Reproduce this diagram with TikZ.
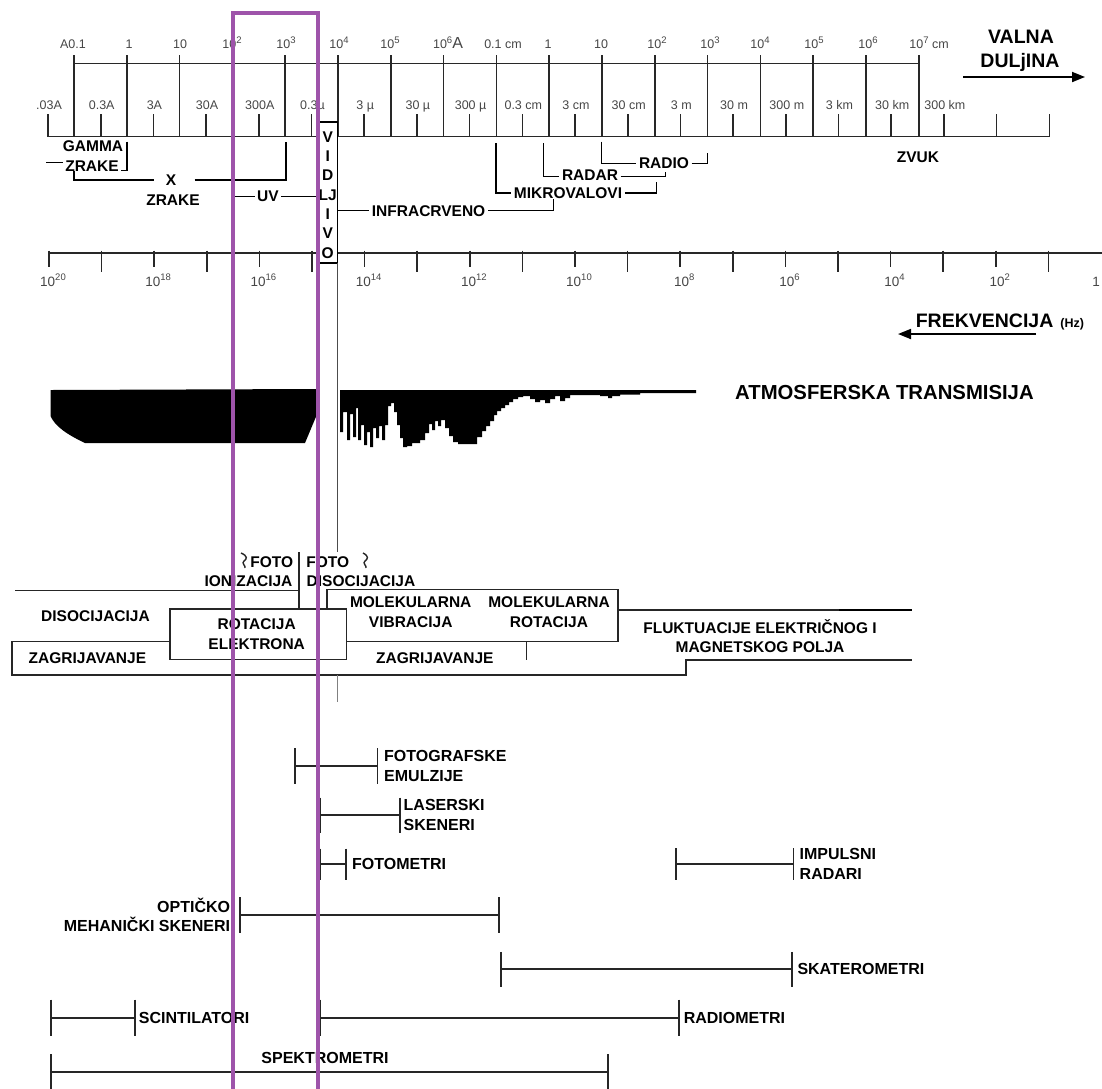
\documentclass[tikz,border=0pt]{standalone}
\usepackage{fontspec}
\setmainfont{Liberation Sans}
\usetikzlibrary{arrows.meta, positioning, calc}

\definecolor{scalegray}{RGB}{70,70,70}
\definecolor{linegray}{RGB}{40,40,40}
\definecolor{bandpurple}{RGB}{158,84,170}

\newcommand\ex[1]{\raisebox{0.42em}{\fontsize{9.5}{9.5}\selectfont #1}}

\tikzset{
  tk/.style={draw=linegray, line width=1.6pt},
  axis/.style={draw=linegray, line width=1.5pt},
  wl/.style={font=\fontsize{12.5}{14}\selectfont, text=scalegray, inner sep=0pt, anchor=base},
  fq/.style={font=\fontsize{13.5}{15}\selectfont, text=scalegray, inner sep=0pt, anchor=base},
  lbl/.style={font=\bfseries\fontsize{15.5}{19.4}\selectfont, inner sep=2.5pt, align=center},
  ins/.style={font=\bfseries\fontsize{16}{19.5}\selectfont, inner sep=1.5pt, align=left},
  big/.style={font=\bfseries\fontsize{19.5}{25}\selectfont, inner sep=0pt, align=center},
  br/.style={draw=black, line width=1.5pt},
  pr/.style={draw=black!85, line width=1.4pt},
  rng/.style={draw=black!85, line width=1.9pt},
  band/.style={draw=bandpurple, line width=4.5pt}
}

\begin{document}
\begin{tikzpicture}[x=1pt, y=-1pt, >=Stealth]
  \useasboundingbox (0,0) rectangle (1102,1088);

  % wavelength scale
  \draw[axis] (74,63.3) -- (919,63.3);
  \draw[axis] (48,136.7) -- (1049,136.7);
  \foreach \i in {0,...,16} \draw[tk] ({74+52.8*\i},55) -- ({74+52.8*\i},136.7);
  \foreach \i in {0,...,19} \draw[tk] ({48+52.7*\i},114) -- ({48+52.7*\i},136.7);
  \foreach \x/\t [count=\k] in {73/A0.1, 129/1, 180/10, 232/10\ex{2}, 286/10\ex{3},
      339/10\ex{4}, 390/10\ex{5}, 448/10\ex{6}{\fontsize{16}{16}\selectfont A},
      503/0.1 cm, 548/1, 601/10, 657/10\ex{2}, 710/10\ex{3}, 760/10\ex{4},
      814/10\ex{5}, 868/10\ex{6}, 929/10\ex{7} cm}
    \node[wl] (up\k) at (\x,48.5) {\t};
  \foreach \t [count=\k from 0] in {.03A, 0.3A, 3A, 30A, 300A, 0.3µ, 3 µ, 30 µ, 300 µ, 0.3 cm, 3 cm,
      30 cm, 3 m, 30 m, 300 m, 3 km, 30 km, 300 km}
    \node[wl] (lo\k) at ({49+52.7*\k},109) {\t};

  \node[big] (valna) at (1021,37) {VALNA};
  \node[big] (dulj) at (1020,62) {DULjINA};
  \draw[line width=1.8pt, -{Triangle[length=13pt, width=10pt]}] (963,77) -- (1085,77);

  % frequency scale
  \draw[axis] (49,253) -- (1102,253);
  \foreach \i in {0,2,...,18} \draw[tk] ({49+52.6*\i},250.7) -- ({49+52.6*\i},267.3);
  \foreach \i in {1,3,...,19} \draw[tk] ({49+52.6*\i},250.7) -- ({49+52.6*\i},271.7);
  \foreach \e [count=\k from 0] in {20,18,16,14,12,10,8,6,4,2}
    \node[fq] (fq\k) at ({53+105.2*\k},286.5) {10\ex{\e}};
  \node[fq] (fq10) at (1096,286.5) {1};

  \node[big, anchor=base west] (frek) at (915.6,327) {FREKVENCIJA\hspace{7pt}{\fontsize{12.5}{14}\selectfont (Hz)}};
  \draw[line width=1.8pt, -{Triangle[length=13pt, width=10pt]}] (1036,334) -- (898,334);

  % visible light strip
  \draw[br, fill=white] (318,122) rectangle (337.5,263);
  \foreach \t [count=\k] in {V,I,D,LJ,I,V,O}
    \node[lbl, inner sep=0pt] (vis\k) at (327.7,{117.7+19.3*\k}) {\t};
  \draw[pr, draw=black!70] (337.5,263) -- (337.5,552);

  % spectral regions
  \node[lbl] (gam) at (93,146) {GAMMA};
  \node[lbl] (gzr) at (92,166) {ZRAKE};
  \draw[br] (46,162.7) -- (62.5,162.7);
  \draw[br] (127,141.7) -- (127,170.7) -- (121,170.7);
  \node[lbl] (xr) at (171,180) {X};
  \node[lbl] (xzr) at (173,200) {ZRAKE};
  \draw[br] (74,170.7) -- (74,180) -- (153.6,180);
  \draw[br] (194.6,180) -- (286,180) -- (286,141.7);
  \node[lbl] (uv) at (268,196.7) {UV};
  \draw[br] (234,196.7) -- (uv.west);
  \draw[br] (uv.east) -- (318,196.7);
  \node[lbl] (ir) at (428.6,210.7) {INFRACRVENO};
  \draw[br] (337.5,210.7) -- (ir.west);
  \draw[br] (ir.east) -- (553.6,210.7) -- (553.6,199);
  \node[lbl] (mik) at (568,193) {MIKROVALOVI};
  \draw[br] (496,143) -- (496,193) -- (mik.west);
  \draw[br] (mik.east) -- (656.5,193) -- (656.5,181.7);
  \node[lbl] (rdr) at (590,175) {RADAR};
  \draw[br] (543.6,143.3) -- (543.6,176.7) -- (rdr.west |- 0,176.7);
  \draw[br] (rdr.east |- 0,176.7) -- (665.4,176.7) -- (665.4,171.7);
  \node[lbl] (rdo) at (664,163.3) {RADIO};
  \draw[br] (601.6,141.7) -- (601.6,163.3) -- (rdo.west);
  \draw[br] (rdo.east) -- (707.7,163.3) -- (707.7,152.7);
  \node[lbl] (zvuk) at (918,157.3) {ZVUK};

  % atmospheric transmission
  \fill (50.5,390) -- (316,389) -- (316,416.7) -- (305,443) -- (85,443)
    .. controls (66,434) and (55,426) .. (50.5,416) -- cycle;
  \fill (340,390) |- (343,432) |- (347,412) |- (350,440) |- (353,414) |- (356,437) |- (358,408)
    |- (361,440) |- (364,425) |- (367,445) |- (370,432) |- (373,447) |- (376,428) |- (379,438)
    |- (382,426) |- (385,440) |- (388,425) |- (391,406) |- (394,403) |- (397,412) |- (400,425)
    |- (403,438) |- (407,447) |- (412,446) |- (420,443) |- (425,440) |- (429,433) |- (432,424)
    |- (435,430) |- (438,421) |- (441,426) |- (445,420) |- (449,428) |- (453,436) |- (458,442)
    |- (477,444) |- (482,437) |- (486,431) |- (490,426) |- (494,421) |- (497,415) |- (501,411)
    |- (505,408) |- (509,405) |- (513,402) |- (518,399) |- (523,397) |- (530,396) |- (535,399)
    |- (540,402) |- (545,400) |- (550,403) |- (555,399) |- (560,396) |- (565,401) |- (570,398)
    |- (600,395) |- (608,396) |- (612,398) |- (620,396) |- (640,394.5) |- (696,393) -- (696,390) -- cycle;
  \node[big, anchor=west, font=\bfseries\fontsize{20.3}{25}\selectfont] (atm) at (735,393) {ATMOSFERSKA TRANSMISIJA};

  % interaction processes
  \draw[pr] (241,553) .. controls (248,556) and (247,559) .. (244,561) .. controls (241,563) and (246,566) .. (245,568);
  \draw[pr] (363,553) .. controls (369,556) and (368,559) .. (365,561) .. controls (362,563) and (367,566) .. (366,568);
  \node[lbl] (foto1) at (271.7,561.7) {FOTO};
  \node[lbl] (foto2) at (327.7,561.7) {FOTO};
  \node[lbl] (ion) at (248.5,581) {IONIZACIJA};
  \node[lbl] (fdis) at (361,581) {DISOCIJACIJA};
  \draw[pr] (299,552) -- (299,609);
  \draw[pr] (15,590.5) -- (299,590.5);
  \draw[pr] (327,609) -- (327,589.5) -- (618,589.5) -- (618,641.7) -- (346.4,641.7);
  \node[lbl] (dis) at (95.5,615.7) {DISOCIJACIJA};
  \draw[pr] (170,609) rectangle (346.4,659.3);
  \node[lbl] (rotel) at (256.7,634) {ROTACIJA\\ELEKTRONA};
  \node[lbl] (molvib) at (410.7,612) {MOLEKULARNA\\VIBRACIJA};
  \node[lbl] (molrot) at (549,612) {MOLEKULARNA\\ROTACIJA};
  \draw[pr] (170,641.5) -- (12,641.5) -- (12,675) -- (686,675) -- (686,660) -- (911.6,660);
  \draw[pr] (526.7,641.7) -- (526.7,660);
  \draw[pr] (618,610) -- (911.6,610);
  \draw[line width=2.2pt] (839,610) -- (911.6,610);
  \node[lbl] (zag1) at (87.4,658.3) {ZAGRIJAVANJE};
  \node[lbl] (zag2) at (434.8,658.3) {ZAGRIJAVANJE};
  \node[lbl] (fluk) at (760,636.3) {FLUKTUACIJE ELEKTRIČNOG I\\MAGNETSKOG POLJA};
  \draw[pr, draw=black!50] (337.5,675) -- (337.5,701.7);

  % sensors
  \foreach \n/\a/\b/\y/\h in {fe/294.6/377.5/766/17.7, ls/320/400/815/17.5, fm/320/346.4/864/15.5,
      ir/676.4/793.5/864/15.8, om/239.8/499/915/18, sk/501/791.8/969.3/17.5,
      sc/51/135.2/1017.7/18, rm/320/678.6/1017.7/18, sp/51/608/1071.7/17.5} {
    \coordinate (\n-l) at (\a,\y);
    \coordinate (\n-r) at (\b,\y);
    \draw[rng] (\n-l) -- (\n-r) ($(\n-l)+(0,-\h)$) -- ($(\n-l)+(0,\h)$) ($(\n-r)+(0,-\h)$) -- ($(\n-r)+(0,\h)$);
  }
  \node[ins, right=5pt of fe-r] (foto) {FOTOGRAFSKE\\EMULZIJE};
  \node[ins, right=2pt of ls-r] (laser) {LASERSKI\\SKENERI};
  \node[ins, right=4pt of fm-r] (fotom) {FOTOMETRI};
  \node[ins, right=4.5pt of ir-r] (imp) {IMPULSNI\\RADARI};
  \node[ins, align=right, left=8pt of om-l] (opt) {OPTIČKO\\MEHANIČKI SKENERI};
  \node[ins, right=4pt of sk-r] (skat) {SKATEROMETRI};
  \node[ins, right=2pt of sc-r] (scin) {SCINTILATORI};
  \node[ins, right=3.5pt of rm-r] (radm) {RADIOMETRI};
  \node[ins] (spek) at (325,1058.3) {SPEKTROMETRI};

  % highlighted band
  \draw[band] (233,1100) -- (233,13) -- (318,13) -- (318,1100);
\end{tikzpicture}
\end{document}
